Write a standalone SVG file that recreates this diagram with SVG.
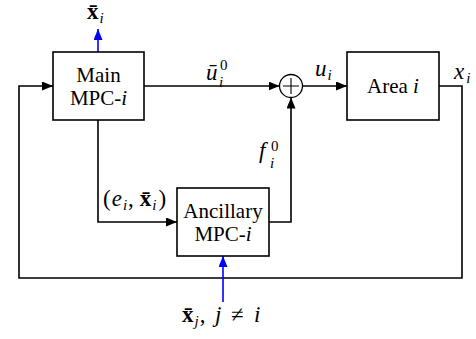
<svg xmlns="http://www.w3.org/2000/svg" width="476" height="339" viewBox="0 0 476 339">
<style>
.box{fill:#fff;stroke:#000;stroke-width:1.6}
.w{fill:none;stroke:#000;stroke-width:1.6}
.b{fill:none;stroke:#0000ff;stroke-width:1.6}
.m{font-style:italic}
.bf{font-weight:bold}
.s{font-size:15px}
.mt{font-size:23px}
</style>
<defs>
<marker id="ab" markerUnits="userSpaceOnUse" markerWidth="12" markerHeight="10" refX="11" refY="4.5" orient="auto"><path d="M0,0 L11,4.5 L0,9 z" fill="#000"/></marker>
<marker id="abl" markerUnits="userSpaceOnUse" markerWidth="12" markerHeight="10" refX="11" refY="4.5" orient="auto"><path d="M0,0 L11,4.5 L0,9 z" fill="#0000ff"/></marker>
</defs>
<g id="connectors">
<path class="w" d="M439,86 H462 V278 H19 V86 H53" marker-end="url(#ab)"/>
<path class="w" d="M144,86 H279.5" marker-end="url(#ab)"/>
<path class="w" d="M302.5,86 H347" marker-end="url(#ab)"/>
<path class="w" d="M98,120 V222 H177" marker-end="url(#ab)"/>
<path class="w" d="M269,222 H291 V97.5" marker-end="url(#ab)"/>
<path class="b" d="M98,52 V29" marker-end="url(#abl)"/>
<path class="b" d="M223,302 V256" marker-end="url(#abl)"/>
</g>
<g font-family="'Liberation Serif', 'Times New Roman', serif" font-size="21" fill="#000">
<g id="main">
<rect class="box" x="53" y="52" width="91" height="68"/>
<text x="98.5" y="82" text-anchor="middle">Main</text>
<text x="98.5" y="105" text-anchor="middle">MPC-<tspan class="m">i</tspan></text>
</g>
<g id="sum">
<circle cx="291" cy="86" r="11.5" fill="#fff" stroke="#000" stroke-width="1.3"/>
<path d="M283,86 H299 M291,78 V94" stroke="#000" stroke-width="1.1"/>
</g>
<g id="area">
<rect class="box" x="347" y="52" width="92" height="68"/>
<text x="393" y="93" text-anchor="middle">Area <tspan class="m">i</tspan></text>
</g>
<g id="ancillary">
<rect class="box" x="177" y="188" width="92" height="68"/>
<text x="223" y="218" text-anchor="middle">Ancillary</text>
<text x="223" y="241" text-anchor="middle">MPC-<tspan class="m">i</tspan></text>
</g>
<g id="labels" class="mt">
<text x="87" y="19"><tspan class="bf">x̄</tspan><tspan class="m s" dx="1" dy="4">i</tspan></text>
<text x="206" y="80"><tspan class="m">ū</tspan></text>
<text x="220" y="70" class="s">0</text>
<text x="219" y="87" class="m s">i</text>
<text x="315" y="76"><tspan class="m">u</tspan><tspan class="m s" dx="1" dy="4">i</tspan></text>
<text x="454" y="79"><tspan class="m">x</tspan><tspan class="m s" dx="2" dy="4">i</tspan></text>
<text x="259" y="158" class="m">f</text>
<text x="271" y="151" class="s">0</text>
<text x="270" y="168" class="m s">i</text>
<text x="103" y="206">(<tspan class="m" dx="1">e</tspan><tspan class="m s" dx="1" dy="4">i</tspan><tspan dx="1" dy="-4">,</tspan><tspan class="bf" dx="6">x̄</tspan><tspan class="m s" dx="1" dy="4">i</tspan><tspan dx="2" dy="-4">)</tspan></text>
<text x="182" y="322"><tspan class="bf">x̄</tspan><tspan class="m s" dx="1" dy="4">j</tspan><tspan dx="1" dy="-4">,</tspan><tspan class="m" x="215">j</tspan><tspan x="231">≠</tspan><tspan class="m" x="254">i</tspan></text>
</g>
</g>
</svg>
